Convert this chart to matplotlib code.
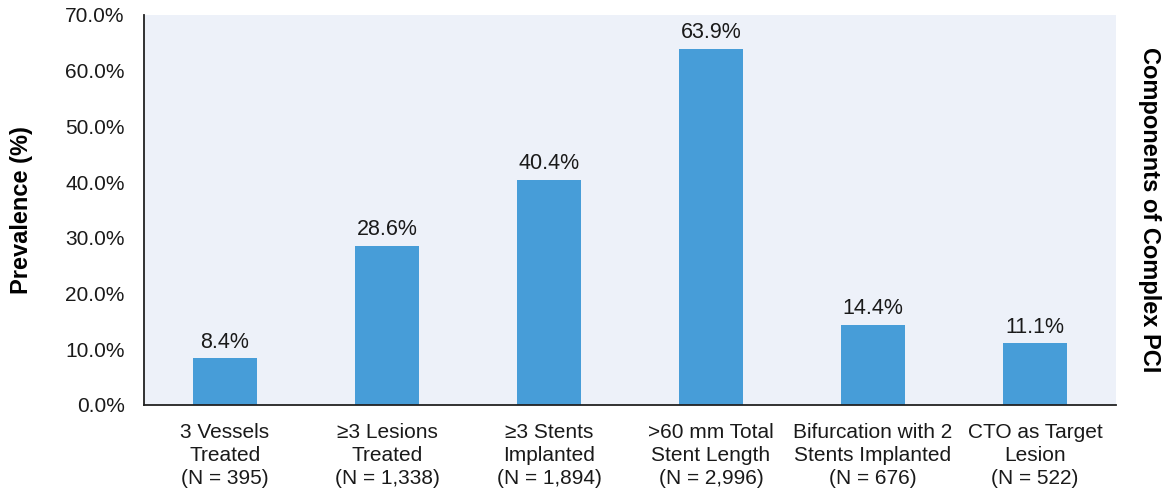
import matplotlib.pyplot as plt
import numpy as np

plt.rcParams['font.family'] = ['Liberation Sans', 'DejaVu Sans']

categories = ["3 Vessels\nTreated\n(N = 395)",
              "\u22653 Lesions\nTreated\n(N = 1,338)",
              "\u22653 Stents\nImplanted\n(N = 1,894)",
              ">60 mm Total\nStent Length\n(N = 2,996)",
              "Bifurcation with 2\nStents Implanted\n(N = 676)",
              "CTO as Target\nLesion\n(N = 522)"]
prevalence = [8.4, 28.6, 40.4, 63.9, 14.4, 11.1]
yticks = [0, 10, 20, 30, 40, 50, 60, 70]

fig = plt.figure(figsize=(11.73, 4.93), dpi=100)
ax = fig.add_axes([0.1228, 0.1785, 0.8286, 0.7911])
ax.set_facecolor('#EDF1F9')

x = np.arange(len(categories))
ax.bar(x, prevalence, width=0.4, color='#479DD8')
for xi, v in zip(x, prevalence):
    ax.text(xi, v + 1.0, "%.1f%%" % v, ha='center', va='bottom', fontsize=15.5, color='#1a1a1a')

ax.set_xlim(-0.5, len(categories) - 0.5)
ax.set_ylim(0, 70)
ax.set_yticks(yticks)
ax.set_yticklabels(["%.1f%%" % t for t in yticks], fontsize=15, color='#1a1a1a')
ax.set_xticks(x)
ax.set_xticklabels(categories, fontsize=15, color='#1a1a1a', linespacing=1.25)
ax.tick_params(axis='y', length=0, pad=14)
ax.tick_params(axis='x', length=0, pad=13)

for s in ['top', 'right']:
    ax.spines[s].set_visible(False)
ax.spines['left'].set_color('#222222')
ax.spines['bottom'].set_color('#222222')
ax.spines['left'].set_linewidth(1.3)
ax.spines['bottom'].set_linewidth(1.3)

fig.text(0.018, 0.574, "Prevalence (%)", rotation=90, ha='center', va='center',
         fontsize=17, fontweight='bold')
fig.text(0.980, 0.574, "Components of Complex PCI", rotation=270, ha='center', va='center',
         fontsize=17, fontweight='bold')

plt.savefig("out.png", dpi=100)
